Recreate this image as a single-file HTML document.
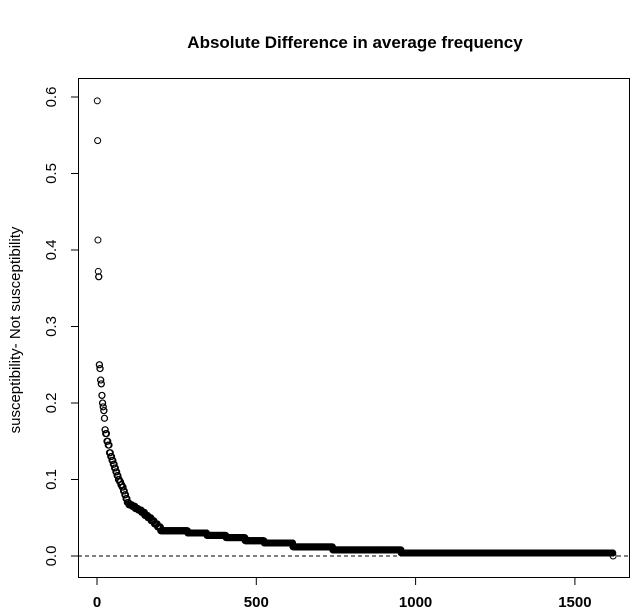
<!DOCTYPE html>
<html><head><meta charset="utf-8"><style>
body{margin:0;background:#fff}
svg{display:block;font-family:"Liberation Sans",sans-serif}
</style></head><body>
<svg id="chart" width="639" height="615" viewBox="0 0 639 615">
<rect width="639" height="615" fill="#fff"/>
<text x="355" y="48" text-anchor="middle" font-size="17" font-weight="bold">Absolute Difference in average frequency</text>
<rect x="78.5" y="78.5" width="551" height="499" fill="none" stroke="#000" stroke-width="1"/>
<text transform="translate(20,330) rotate(-90)" text-anchor="middle" font-size="15">susceptibility- Not susceptibility</text>
<g id="axes"></g>
<g id="points"></g>
</svg>
<script>
const xTicks=[0,500,1000,1500];
const yTicks=[0.0,0.1,0.2,0.3,0.4,0.5,0.6];
const yTickLabels=["0.0","0.1","0.2","0.3","0.4","0.5","0.6"];
const runCounts=[1,1,1,1,2,2,2,2,2,2,2,2,2,2,2,4,4,4,4,4,4,4,4,4,4,4,4,4,4,4,4,4,5,10,10,10,10,10,10,10,10,10,10,85,60,60,60,60,90,125,215,665,1];
const runValues=[0.595,0.543,0.413,0.372,0.365,0.25,0.245,0.23,0.225,0.21,0.2,0.195,0.19,0.18,0.165,0.16,0.15,0.145,0.135,0.13,0.125,0.12,0.115,0.11,0.105,0.1,0.097,0.093,0.09,0.085,0.08,0.075,0.07,0.067,0.065,0.062,0.06,0.057,0.053,0.05,0.046,0.042,0.038,0.033,0.03,0.027,0.024,0.02,0.017,0.012,0.008,0.004,0.0];
const NS="http://www.w3.org/2000/svg";
const xs=v=>97+v*(159.3/500);
const ys=v=>556-v*765;
const axes=document.getElementById('axes');
function mk(tag,attrs,parent){const e=document.createElementNS(NS,tag);for(const k in attrs)e.setAttribute(k,attrs[k]);parent.appendChild(e);return e;}
const dl=mk('line',{x1:78,x2:630,y1:ys(0),y2:ys(0),stroke:'#000','stroke-dasharray':'4,3'},axes);


mk('line',{x1:xs(0),x2:xs(1500),y1:577.5,y2:577.5,stroke:'#000'},axes);
xTicks.forEach(t=>{
 const l=mk('line',{x1:xs(t),x2:xs(t),y1:577.5,y2:585,stroke:'#000'},axes);
 
 
 const tx=mk('text',{x:xs(t),y:607,'text-anchor':'middle','font-size':'15','font-weight':'bold'},axes);
 tx.textContent=String(t);
 
 
});
mk('line',{x1:78.5,x2:78.5,y1:ys(0),y2:ys(0.6),stroke:'#000'},axes);
yTicks.forEach((t,i)=>{
 const l=mk('line',{x1:71,x2:78.5,y1:ys(t),y2:ys(t),stroke:'#000'},axes);
 
 
 const tx=mk('text',{transform:`translate(56,${ys(t)}) rotate(-90)`,'text-anchor':'middle','font-size':'15'},axes);
 tx.textContent=yTickLabels[i];
 
 
});
const pts=document.getElementById('points');
let idx=1;
runCounts.forEach((n,r)=>{
 for(let k=0;k<n;k++){
  const c=mk('circle',{cx:xs(idx),cy:ys(runValues[r]),r:3,fill:'none',stroke:'#000','stroke-width':'1'},pts);
  
  
  idx++;
 }
});
</script>
</body></html>
